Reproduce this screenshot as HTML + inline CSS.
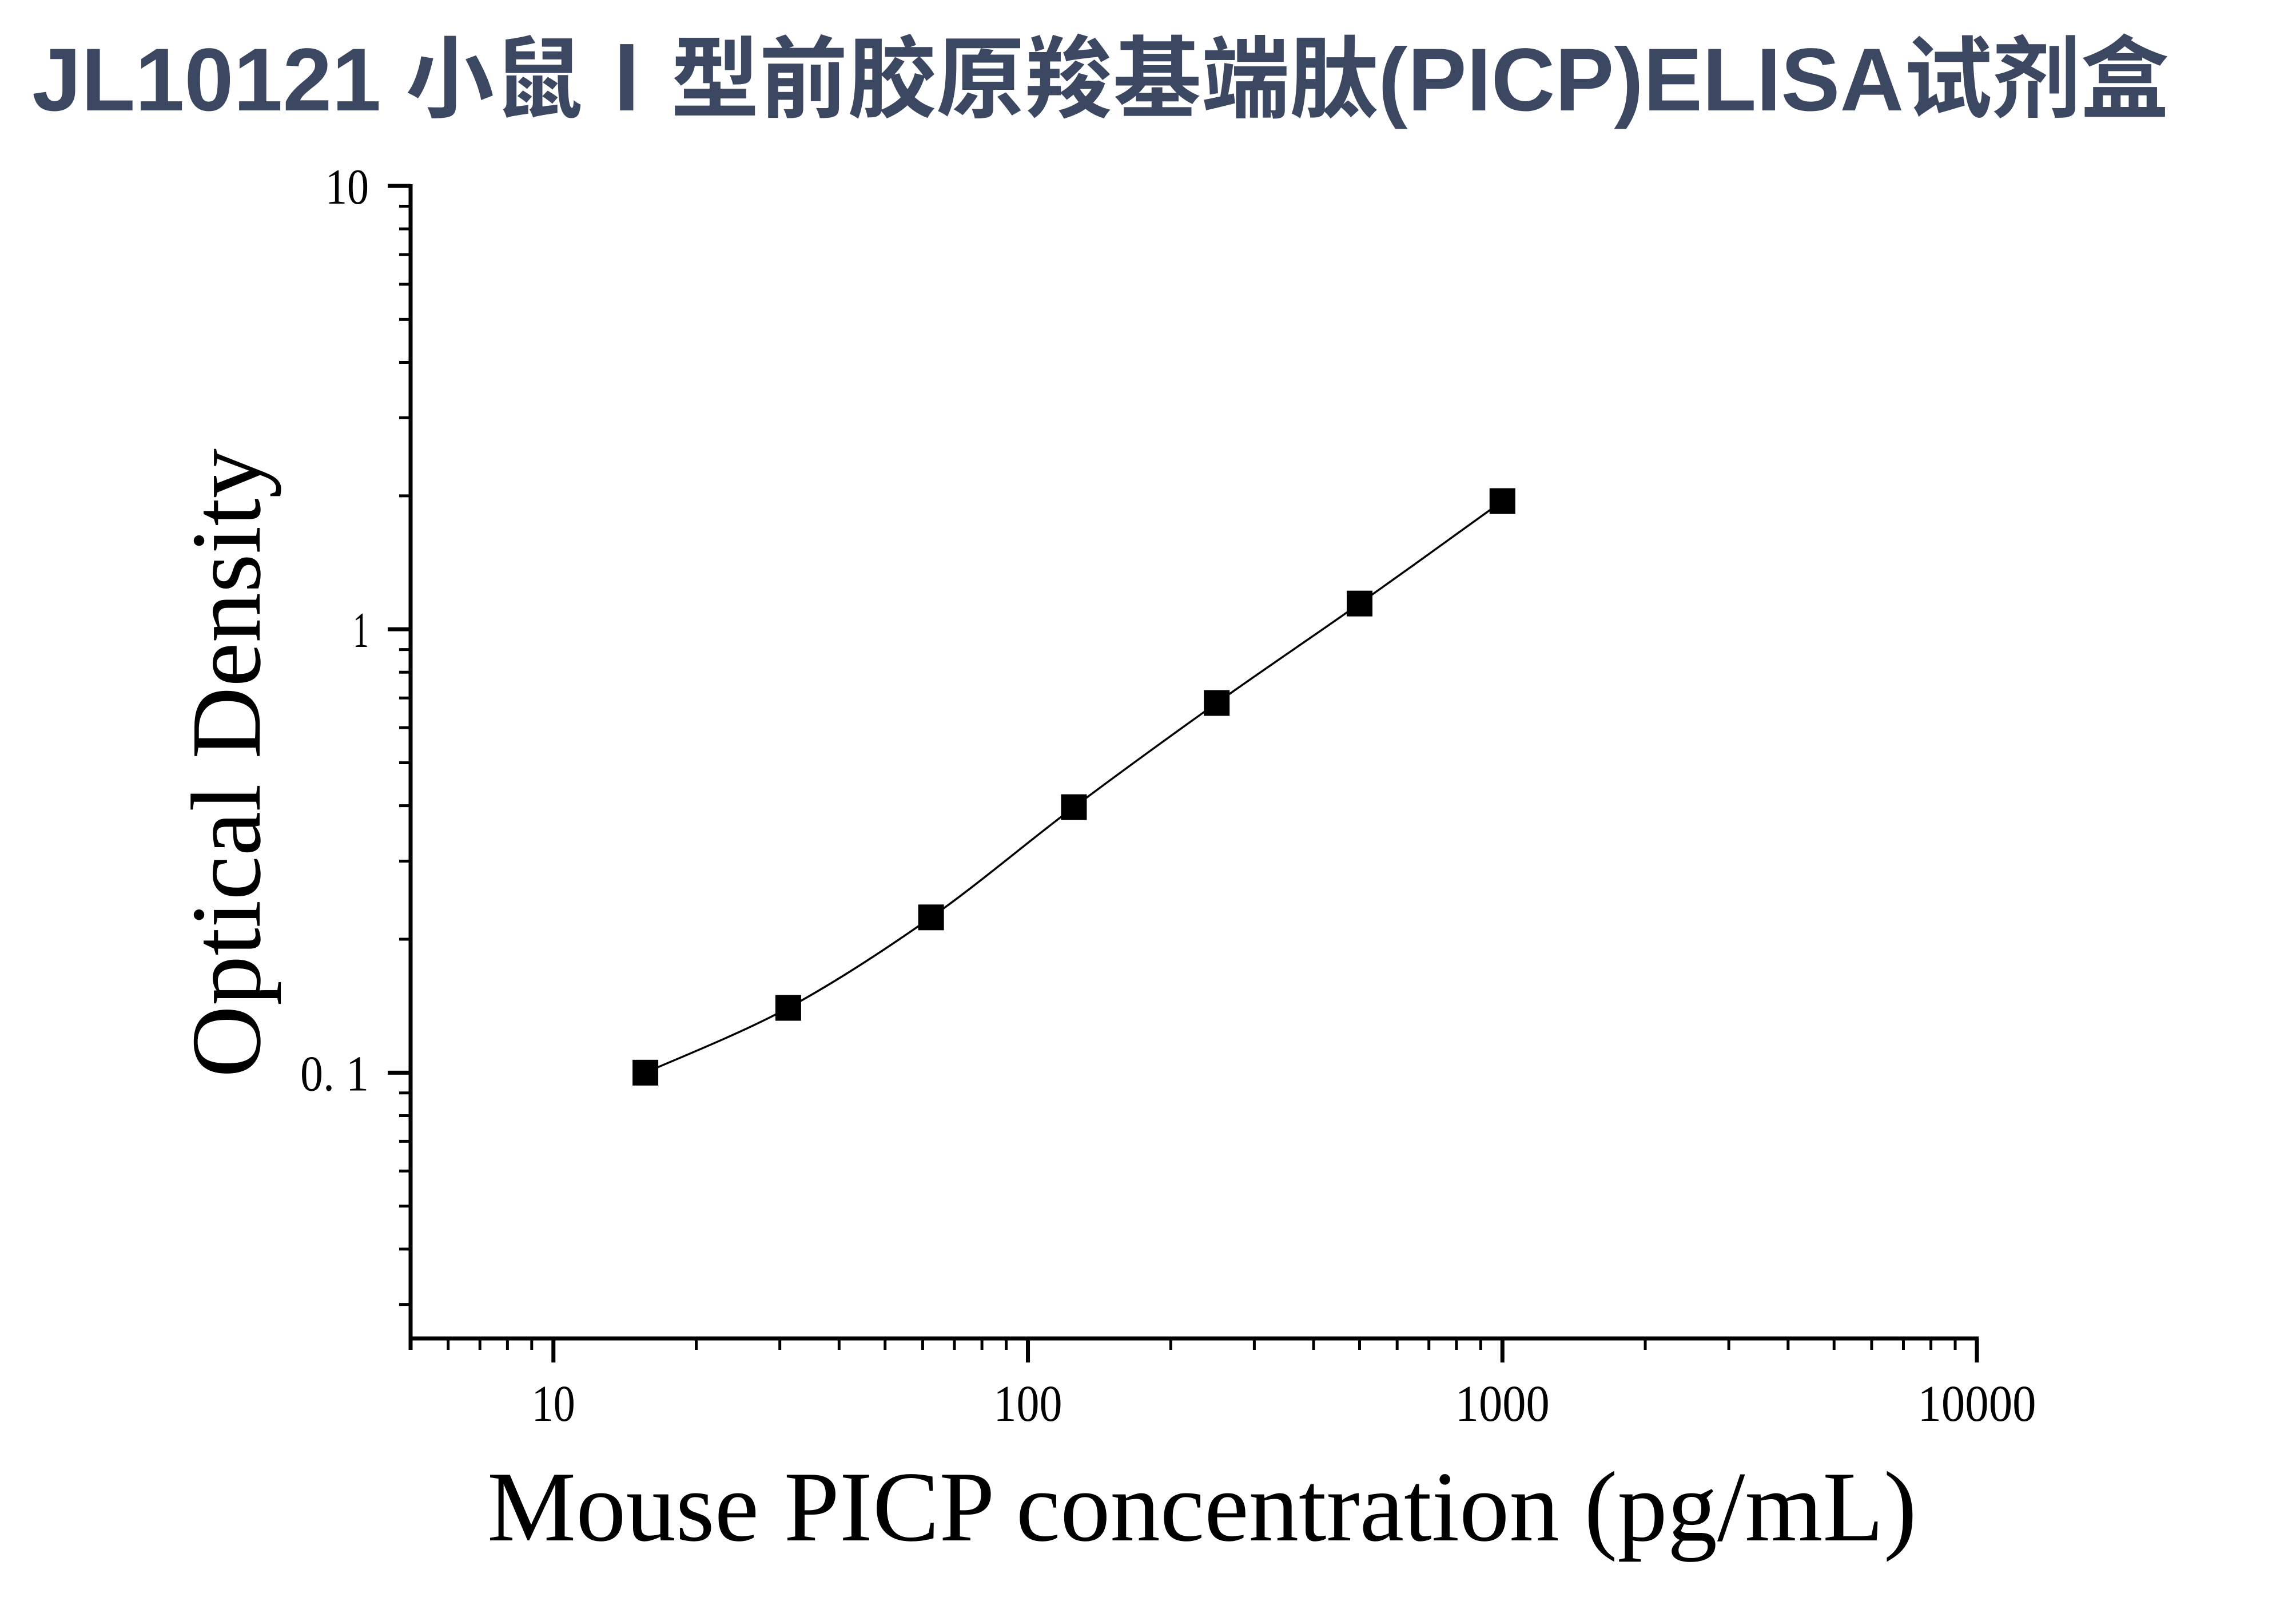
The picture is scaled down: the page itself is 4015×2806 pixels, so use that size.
<!DOCTYPE html>
<html><head><meta charset="utf-8"><style>
html,body{margin:0;padding:0;background:#fff;}
svg{display:block;}
</style></head><body>
<svg id="chart" width="4015" height="2806" viewBox="0 0 4015 2806" xmlns="http://www.w3.org/2000/svg">
<rect x="0" y="0" width="4015" height="2806" fill="#fff"/>
<text x="56" y="193" textLength="3737" lengthAdjust="spacingAndGlyphs" font-family="'Liberation Sans','Noto Sans CJK SC',sans-serif" font-weight="bold" font-size="156" fill="#3c4862">JL10121 小鼠Ⅰ型前胶原羧基端肽(PICP)ELISA试剂盒</text>
<g id="axes"></g>
<g id="plot"></g>
<text transform="translate(454,1334) rotate(-90)" text-anchor="middle" textLength="1100" lengthAdjust="spacingAndGlyphs" font-family="'Liberation Serif',serif" font-size="174" fill="#000">Optical Density</text>
<text x="852" y="2693" textLength="2500" lengthAdjust="spacingAndGlyphs" font-family="'Liberation Serif',serif" font-size="175" fill="#000">Mouse PICP concentration (pg/mL)</text>
</svg>
<script>
const concentrations = [15.625, 31.25, 62.5, 125, 250, 500, 1000];
const odValues = [0.100, 0.140, 0.224, 0.397, 0.682, 1.143, 1.946];
const xTickValues = [10, 100, 1000, 10000];
const xTickLabels = ["10", "100", "1000", "10000"];
const yTickValues = [0.1, 1, 10];
const yTickLabels = ["0. 1", "1", "10"];

const NS = "http://www.w3.org/2000/svg";
const X0 = 718, X1 = 3457, XMIN = 5, XMAX = 10000;
const Y0 = 2340, Y1 = 325, YMIN = 0.02515, YMAX = 10;
function xs(v){ return X0 + (Math.log10(v) - Math.log10(XMIN)) / (Math.log10(XMAX) - Math.log10(XMIN)) * (X1 - X0); }
function ys(v){ return Y0 - (Math.log10(v) - Math.log10(YMIN)) / (Math.log10(YMAX) - Math.log10(YMIN)) * (Y0 - Y1); }
function mk(tag, attrs){ const e = document.createElementNS(NS, tag); for (const k in attrs) e.setAttribute(k, attrs[k]); return e; }

const axes = document.getElementById('axes');
const plot = document.getElementById('plot');

const yAxis = mk('line', {x1: X0, y1: Y1 - 3, x2: X0, y2: Y0 + 3, stroke: '#000', 'stroke-width': 7});


axes.appendChild(yAxis);
const xAxis = mk('line', {x1: X0 - 3, y1: Y0, x2: X1 + 3, y2: Y0, stroke: '#000', 'stroke-width': 7});


axes.appendChild(xAxis);

// x minor ticks
for (let d = 1; d <= 1000; d *= 10) {
  for (let m = 1; m <= 9; m++) {
    const v = d * m;
    if (v < XMIN || v > XMAX) continue;
    const major = (m === 1);
    const x = xs(v);
    const t = mk('line', {x1: x, y1: Y0, x2: x, y2: Y0 + (major ? 42 : 20), stroke: '#000', 'stroke-width': major ? 7 : 5});
    
    
    axes.appendChild(t);
  }
}
const xEnd = mk('line', {x1: X1, y1: Y0, x2: X1, y2: Y0 + 42, stroke: '#000', 'stroke-width': 7});


axes.appendChild(xEnd);
const xStart = mk('line', {x1: X0, y1: Y0, x2: X0, y2: Y0 + 20, stroke: '#000', 'stroke-width': 7});


axes.appendChild(xStart);

// y ticks
for (let d = 0.01; d <= 10; d *= 10) {
  for (let m = 1; m <= 9; m++) {
    const v = d * m;
    if (v < YMIN || v > YMAX * 1.0001) continue;
    const major = (m === 1);
    const y = ys(v);
    const t = mk('line', {x1: X0, y1: y, x2: X0 - (major ? 40 : 20), y2: y, stroke: '#000', 'stroke-width': major ? 7 : 5});
    
    
    axes.appendChild(t);
  }
}

const xLabelWidths = [76, 120, 165, 207];
xTickValues.forEach((v, i) => {
  const t = mk('text', {x: xs(v), y: 2484, 'text-anchor': 'middle', 'font-family': "'Liberation Serif',serif", 'font-size': 90, fill: '#000', textLength: xLabelWidths[i], lengthAdjust: 'spacingAndGlyphs'});
  
  
  t.textContent = xTickLabels[i];
  axes.appendChild(t);
});
const yLabelWidths = [120, 28, 76];
yTickValues.forEach((v, i) => {
  const t = mk('text', {x: 645, y: ys(v) + 31, 'text-anchor': 'end', 'font-family': "'Liberation Serif',serif", 'font-size': 88, fill: '#000', textLength: yLabelWidths[i], lengthAdjust: 'spacingAndGlyphs'});
  
  
  t.textContent = yTickLabels[i];
  axes.appendChild(t);
});

// fitted curve (Catmull-Rom through points)
const pts = concentrations.map((c, i) => [xs(c), ys(odValues[i])]);
let d = 'M' + pts[0][0] + ',' + pts[0][1];
for (let i = 0; i < pts.length - 1; i++) {
  const p0 = pts[Math.max(0, i - 1)], p1 = pts[i], p2 = pts[i + 1], p3 = pts[Math.min(pts.length - 1, i + 2)];
  const c1x = p1[0] + (p2[0] - p0[0]) / 6, c1y = p1[1] + (p2[1] - p0[1]) / 6;
  const c2x = p2[0] - (p3[0] - p1[0]) / 6, c2y = p2[1] - (p3[1] - p1[1]) / 6;
  d += ' C' + c1x + ',' + c1y + ' ' + c2x + ',' + c2y + ' ' + p2[0] + ',' + p2[1];
}
const curve = mk('path', {d: d, fill: 'none', stroke: '#000', 'stroke-width': 3.5});


plot.appendChild(curve);

concentrations.forEach((c, i) => {
  const s = 45;
  const r = mk('rect', {x: xs(c) - s / 2, y: ys(odValues[i]) - s / 2, width: s, height: s, fill: '#000'});
  
  
  plot.appendChild(r);
});
</script>
</body></html>
